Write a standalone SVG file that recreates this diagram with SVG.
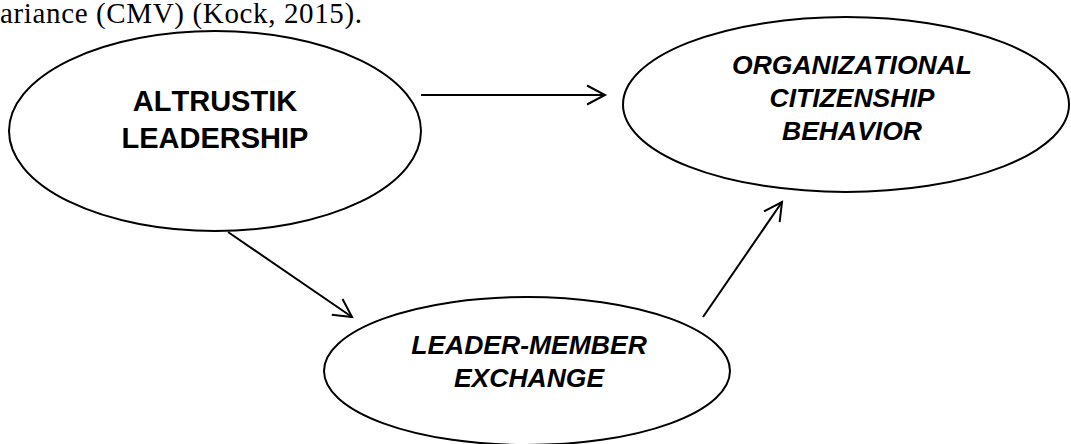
<svg xmlns="http://www.w3.org/2000/svg" width="1071" height="444" viewBox="0 0 1071 444">
<style>
.node ellipse{fill:#fff;stroke:#000;stroke-width:2}
.lbl{font-family:"Liberation Sans",Arial,sans-serif;font-weight:bold;fill:#000;text-anchor:middle;font-kerning:none}
.it{font-style:italic;font-size:26.5px}
.conn line{stroke:#000;stroke-width:2;fill:none}
</style>
<defs>
<marker id="arr" viewBox="0 0 20 20" refX="19" refY="10" markerWidth="20" markerHeight="20" markerUnits="userSpaceOnUse" orient="auto" overflow="visible">
<path d="M1,0.5 L19,10 L1,19.5" fill="none" stroke="#000" stroke-width="2"/>
</marker>
</defs>
<rect width="1071" height="444" fill="#fff"/>
<text x="0" y="23" font-family="'Liberation Serif','Times New Roman',serif" font-size="29" textLength="362" fill="#000">ariance (CMV) (Kock, 2015).</text>
<g id="altruistic" class="node">
<ellipse cx="215" cy="131" rx="206" ry="100"/>
<text class="lbl" x="215" y="111" font-size="29">ALTRUSTIK</text>
<text class="lbl" x="215" y="148" font-size="29">LEADERSHIP</text>
</g>
<g id="ocb" class="node">
<ellipse cx="846" cy="104.5" rx="223" ry="87.5"/>
<text class="lbl it" x="852" y="74">ORGANIZATIONAL</text>
<text class="lbl it" x="852" y="107">CITIZENSHIP</text>
<text class="lbl it" x="852" y="140">BEHAVIOR</text>
</g>
<g id="lmx" class="node">
<ellipse cx="527" cy="371" rx="203" ry="74"/>
<text class="lbl it" x="529" y="354">LEADER-MEMBER</text>
<text class="lbl it" x="529" y="387">EXCHANGE</text>
</g>
<g id="connectors" class="conn">
<line x1="421" y1="95" x2="605" y2="95" marker-end="url(#arr)"/>
<line x1="228" y1="232" x2="352" y2="317" marker-end="url(#arr)"/>
<line x1="703" y1="317" x2="782" y2="202" marker-end="url(#arr)"/>
</g>
</svg>
